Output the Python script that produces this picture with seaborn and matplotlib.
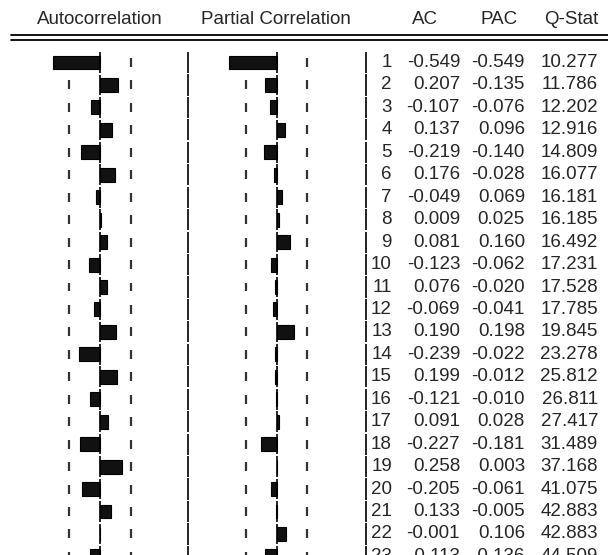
import numpy as np
import pandas as pd
import matplotlib
matplotlib.use("Agg")
import matplotlib.pyplot as plt
import seaborn as sns
from matplotlib import transforms
from matplotlib.lines import Line2D

# ==============================
# 数据 (correlogram, n = 31)
# ==============================
lags = list(range(1, 24))
ac = [-0.549, 0.207, -0.107, 0.137, -0.219, 0.176, -0.049, 0.009, 0.081, -0.123,
      0.076, -0.069, 0.190, -0.239, 0.199, -0.121, 0.091, -0.227, 0.258, -0.205,
      0.133, -0.001, -0.113]
pac = [-0.549, -0.135, -0.076, 0.096, -0.140, -0.028, 0.069, 0.025, 0.160, -0.062,
       -0.020, -0.041, 0.198, -0.022, -0.012, -0.010, 0.028, -0.181, 0.003, -0.061,
       -0.005, 0.106, -0.136]
qstat = [10.277, 11.786, 12.202, 12.916, 14.809, 16.077, 16.181, 16.185, 16.492, 17.231,
         17.528, 17.785, 19.845, 23.278, 25.812, 26.811, 27.417, 31.489, 37.168, 41.075,
         42.883, 42.883, 44.509]
headers = ["Autocorrelation", "Partial Correlation", "AC", "PAC", "Q-Stat"]
nobs = 31
bound = 2 / np.sqrt(nobs)

df = pd.DataFrame({"lag": lags, "ac": ac, "pac": pac, "q": qstat})

sns.set_style("white")
plt.rcParams['font.family'] = ['Liberation Sans', 'DejaVu Sans']
FS = 13.5

W, H = 608, 555
fig = plt.figure(figsize=(W / 100, H / 100), dpi=100)

row_px = 22.45
y0_px = 62.5
top_px, bot_px = 42, H
ylim = ((bot_px - y0_px) / row_px, -(y0_px - top_px) / row_px)
scale = 86.0  # px per unit of correlation


def make_ax(left, right, zero):
    ax = fig.add_axes([left / W, 1 - bot_px / H, (right - left) / W, (bot_px - top_px) / H])
    ax.set_xlim(-(zero - left) / scale, (right - zero) / scale)
    return ax


ax1 = make_ax(0, 188, 100)
ax2 = make_ax(188, 366, 276.5)

pos = np.arange(len(lags))
n = len(pos)
for ax, col in [(ax1, "ac"), (ax2, "pac")]:
    # +/- 2 s.e. ticks per row (under the bars)
    for b in (-bound, bound):
        ax.vlines(np.full(n, b), pos - 0.2, pos + 0.2, color="#333333", lw=1.6, zorder=0.5)
    sns.barplot(data=df, x=col, y="lag", orient="h", order=lags, width=0.62,
                color="#111111", edgecolor="black", linewidth=0.8, saturation=1, ax=ax)
    # zero line
    ax.vlines(np.zeros(n), pos - 0.46, pos + 0.46, color="black", lw=1.2)
    ax.set_ylim(*ylim)
    ax.set_axis_off()

# row separators
tr = transforms.blended_transform_factory(fig.transFigure, ax1.transData)
for xpx in (188, 366):
    ax1.vlines(np.full(n, xpx / W), pos - 0.47, pos + 0.47, color="black", lw=1.2,
               transform=tr, clip_on=False)

# table text
for i, r in df.iterrows():
    kw = dict(transform=tr, ha="right", va="center", fontsize=FS, clip_on=False)
    ax1.text(392 / W, i, f"{int(r.lag)}", **kw)
    ax1.text(460 / W, i, f"{r.ac:.3f}", **kw)
    ax1.text(525 / W, i, f"{r.pac:.3f}", **kw)
    ax1.text(598 / W, i, f"{r.q:.3f}", **kw)

# header
hy = 1 - 20 / H
fig.text(100 / W, hy, headers[0], ha="center", va="center", fontsize=FS)
fig.text(276 / W, hy, headers[1], ha="center", va="center", fontsize=FS)
fig.text(438 / W, hy, headers[2], ha="right", va="center", fontsize=FS)
fig.text(518 / W, hy, headers[3], ha="right", va="center", fontsize=FS)
fig.text(598 / W, hy, headers[4], ha="right", va="center", fontsize=FS)
for ypx in (34.5, 39.5):
    fig.add_artist(Line2D([11 / W, 1], [1 - ypx / H] * 2, color="black", lw=1.3))

plt.savefig("out.png", dpi=100)
